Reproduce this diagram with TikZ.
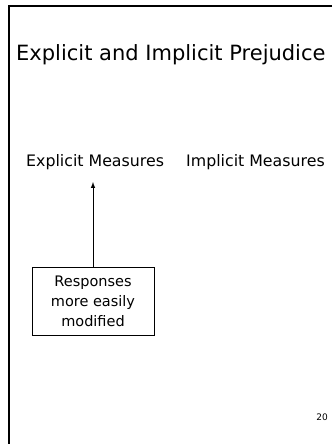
\documentclass[tikz,border=0pt]{standalone}
\usepackage{fontspec}
\setmainfont{DejaVu Sans}
\begin{document}
\begin{tikzpicture}[x=1pt,y=-1pt,
  frame/.style={line width=2pt,black},
  lbl/.style={inner sep=0pt,anchor=base west},
  respbox/.style={draw,line width=0.8pt,minimum width=122pt,minimum height=68pt,align=center,inner sep=2pt,font=\fontsize{14.5}{20}\selectfont},
  conn/.style={-latex,line width=1pt}]
\useasboundingbox (0,0) rectangle (332,444);
\fill[white] (0,0) rectangle (332,444);
\draw[frame] (332,6) -- (8.5,6) -- (8.5,444);
\node[lbl,font=\fontsize{21}{24}\selectfont] (title) at (16,60) {Explicit and Implicit Prejudice};
\node[lbl,font=\fontsize{15.8}{18}\selectfont] (exp) at (26,166) {Explicit Measures};
\node[lbl,font=\fontsize{15.8}{18}\selectfont] (imp) at (186,166) {Implicit Measures};
\node[respbox] (resp) at (93,301) {Responses\\more easily\\modified};
\coordinate (tip) at (93,182);
\draw[conn] (resp.north) -- (tip);
\node[inner sep=0pt,font=\fontsize{9}{10}\selectfont] (pg) at (322,417) {20};
\end{tikzpicture}
\end{document}
